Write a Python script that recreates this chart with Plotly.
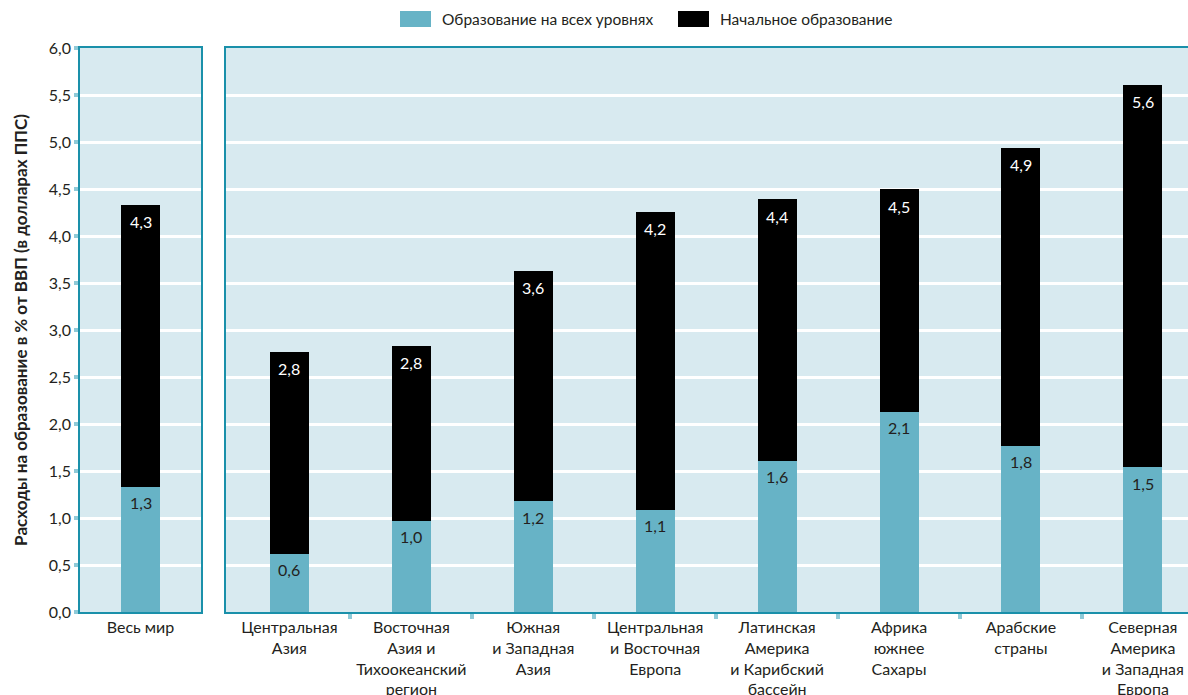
import plotly.graph_objects as go

world_label = ["Весь мир"]
world_all = [1.33]
world_total = [4.33]
world_all_txt = ["1,3"]
world_total_txt = ["4,3"]

regions = [
    "Центральная<br>Азия",
    "Восточная<br>Азия и<br>Тихоокеанский<br>регион",
    "Южная<br>и Западная<br>Азия",
    "Центральная<br>и Восточная<br>Европа",
    "Латинская<br>Америка<br>и Карибский<br>бассейн",
    "Африка<br>южнее<br>Сахары",
    "Арабские<br>страны",
    "Северная<br>Америка<br>и Западная<br>Европа",
]
reg_all = [0.62, 0.97, 1.18, 1.09, 1.61, 2.13, 1.77, 1.54]
reg_total = [2.77, 2.83, 3.63, 4.26, 4.39, 4.50, 4.94, 5.61]
reg_all_txt = ["0,6", "1,0", "1,2", "1,1", "1,6", "2,1", "1,8", "1,5"]
reg_total_txt = ["2,8", "2,8", "3,6", "4,2", "4,4", "4,5", "4,9", "5,6"]

y_ticks = [0, 0.5, 1, 1.5, 2, 2.5, 3, 3.5, 4, 4.5, 5, 5.5, 6]
legend_names = ["Образование на всех уровнях", "Начальное образование"]

BLUE = "#67b3c6"
BLACK = "#000000"
BG = "#d8eaf0"
EDGE = "#1a90aa"
TICK = "#8fcad8"
FONT = "Lato"
TXT = "#231f20"
FS = 16

fig = go.Figure()

def add_pair(xs, lower, total, lower_txt, total_txt, xa, ya):
    upper = [t - l for t, l in zip(total, lower)]
    fig.add_trace(go.Bar(
        x=xs, y=lower, name=legend_names[0],
        marker=dict(color=BLUE, line=dict(width=0)), width=0.32,
        xaxis=xa, yaxis=ya, showlegend=False, hoverinfo="skip",
    ))
    fig.add_trace(go.Bar(
        x=xs, y=upper, name=legend_names[1],
        marker=dict(color=BLACK, line=dict(width=0)), width=0.32,
        xaxis=xa, yaxis=ya, showlegend=False, hoverinfo="skip",
    ))
    for x, v, t in zip(xs, lower, lower_txt):
        fig.add_annotation(x=x, y=v, xref=xa, yref=ya, text=t, showarrow=False,
                           yanchor="middle", yshift=-16,
                           font=dict(color=TXT, size=FS, family=FONT))
    for x, v, t in zip(xs, total, total_txt):
        fig.add_annotation(x=x, y=v, xref=xa, yref=ya, text=t, showarrow=False,
                           yanchor="middle", yshift=-17,
                           font=dict(color="white", size=FS, family=FONT))

add_pair(list(range(len(world_label))), world_all, world_total,
         world_all_txt, world_total_txt, "x", "y")
add_pair(list(range(len(regions))), reg_all, reg_total,
         reg_all_txt, reg_total_txt, "x2", "y2")

W, H = 1188, 695
ml, mr, mt, mb = 80, 0, 48, 83
pw = W - ml - mr
left_end = (201 - ml) / pw
right_start = (226 - ml) / pw

common_y = dict(
    range=[0, 6], tickvals=y_ticks, showgrid=True, gridcolor="white", gridwidth=3,
    zeroline=False, showline=True, linecolor=EDGE, linewidth=1.5, automargin=False,
)

fig.update_layout(
    width=W, height=H,
    margin=dict(l=ml, r=mr, t=mt, b=mb, autoexpand=False),
    paper_bgcolor="white", plot_bgcolor="white",
    barmode="stack", separators=", ",
    font=dict(family=FONT, size=FS, color=TXT),
    showlegend=False,
    xaxis=dict(domain=[0, left_end], range=[-0.5, 0.5], tickvals=[0],
               ticktext=world_label, ticks="", showline=True, mirror=True,
               linecolor=EDGE, linewidth=1.5, showgrid=False, zeroline=False,
               automargin=False, tickfont=dict(size=FS, family=FONT, color=TXT)),
    xaxis2=dict(domain=[right_start, 1], range=[-0.52, 7.37],
                tickvals=list(range(len(regions))), ticktext=regions, ticks="",
                showline=True, mirror=True, linecolor=EDGE, linewidth=1.5,
                showgrid=False, zeroline=False, automargin=False,
                tickfont=dict(size=FS, family=FONT, color=TXT),
                minor=dict(tickvals=[k + 0.5 for k in range(len(regions) - 1)],
                           ticks="outside", ticklen=5, tickwidth=4, tickcolor=TICK,
                           showgrid=False)),
    yaxis=dict(anchor="x", mirror=True, ticks="outside", ticklen=4, tickwidth=4,
               tickcolor=TICK, tickformat=".1f",
               tickfont=dict(size=FS, family=FONT, color=TXT),
               title=dict(text="<b>Расходы на образование в % от ВВП (в долларах ППС)</b>",
                          font=dict(size=17, family=FONT, color=TXT), standoff=17),
               **common_y),
    yaxis2=dict(anchor="x2", matches="y", showticklabels=False, ticks="",
                mirror=False, **common_y),
)

fig.add_shape(type="rect", xref="x domain", yref="y domain", x0=0, x1=1, y0=0, y1=1,
              fillcolor=BG, line=dict(width=0), layer="below")
fig.add_shape(type="rect", xref="x2 domain", yref="y2 domain", x0=0, x1=1, y0=0, y1=1,
              fillcolor=BG, line=dict(width=0), layer="below")

# legend drawn in paper space (pixel-positioned swatches + labels)
leg = [(400, BLUE, legend_names[0]), (678, BLACK, legend_names[1])]
for px, col, name in leg:
    x0 = (px - ml) / pw
    x1 = (px + 31 - ml) / pw
    fig.add_shape(type="rect", xref="paper", yref="paper",
                  x0=x0, x1=x1, y0=1 + (48 - 27) / (H - mt - mb),
                  y1=1 + (48 - 11) / (H - mt - mb),
                  fillcolor=col, line=dict(width=0))
    fig.add_annotation(xref="paper", yref="paper", x=(px + 40 - ml) / pw,
                       y=1 + (48 - 19) / (H - mt - mb), xanchor="left", yanchor="middle",
                       text=name, showarrow=False,
                       font=dict(size=15.5, family=FONT, color=TXT))

fig.write_html("out.html", config={"displayModeBar": False},
               post_script="document.body.style.margin='0';document.body.style.overflow='hidden';")
